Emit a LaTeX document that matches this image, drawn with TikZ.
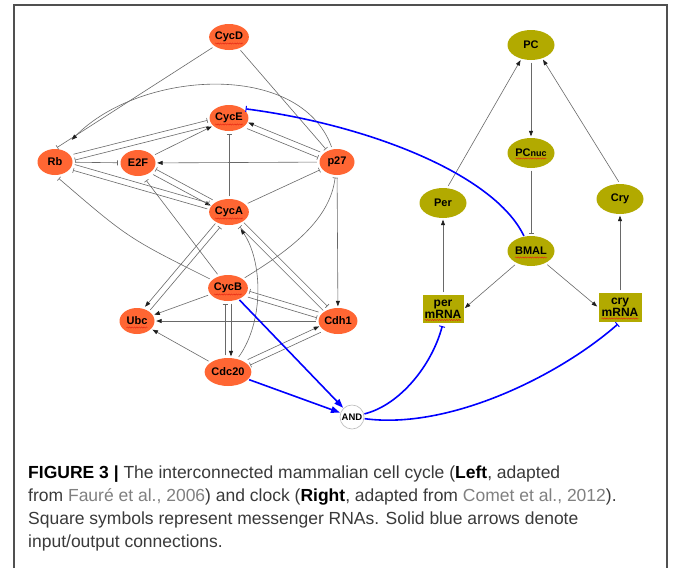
\documentclass[tikz,border=0pt]{standalone}
\usepackage{fontspec}
\setmainfont{Liberation Sans}
\usetikzlibrary{arrows.meta,calc,decorations.pathmorphing,shapes.geometric}
\definecolor{cellor}{RGB}{255,102,51}
\definecolor{clk}{RGB}{178,170,0}
\definecolor{edg}{RGB}{105,105,105}
\definecolor{tipc}{RGB}{30,30,30}
\definecolor{capt}{RGB}{58,58,58}
\definecolor{linkc}{RGB}{128,128,128}
\definecolor{frm}{RGB}{80,80,80}
\definecolor{sqc}{RGB}{230,40,20}
\newcommand\tlsep{3pt}
\newcommand\twoline[4]{%
  \path (#1) -- (#2) coordinate[pos=0] (tla) coordinate[pos=1] (tlb);
  \coordinate (tls) at ($(tla)!\tlsep!#3:(tlb)$);
  \draw[#4] (tls) -- ($(tlb)+(tls)-(tla)$);}
\begin{document}
\begin{tikzpicture}[x=1pt,y=-1pt,
  cell/.style={ellipse, fill=cellor, inner sep=0pt, minimum width=35pt, minimum height=26pt, font=\fontsize{11}{12}\selectfont\bfseries},
  clock/.style={ellipse, fill=clk, inner sep=0pt, minimum width=47pt, minimum height=30pt, font=\fontsize{11}{12}\selectfont\bfseries},
  mrna/.style={rectangle, fill=clk, inner sep=0pt, minimum height=28pt, align=center, font=\fontsize{12}{10}\selectfont\bfseries},
  gate/.style={circle, draw=gray!55, line width=0.6pt, fill=white, minimum size=24pt, inner sep=0pt, font=\fontsize{9.5}{10}\selectfont\bfseries},
  act/.style={draw=edg, line width=0.6pt, -{Triangle[length=5.5pt,width=4pt,color=tipc]}, shorten <=2.5pt, shorten >=1.5pt},
  inh/.style={draw=edg, line width=0.6pt, -{Bar[width=5pt]}, shorten <=2.5pt, shorten >=2.5pt},
  blact/.style={draw=blue, line width=1.6pt, -{Triangle[length=9pt,width=6.5pt]}, shorten <=1pt, shorten >=0.5pt},
  blinh/.style={draw=blue, line width=1.6pt, -{Bar[width=6pt,line width=1pt]}, shorten <=0.5pt, shorten >=3pt},
  squig/.style={draw=sqc, line width=0.45pt, decorate, decoration={snake,segment length=2.4pt,amplitude=0.6pt}},
  captext/.style={inner sep=0pt, anchor=base west, text=capt, font=\fontsize{17.5}{21}\selectfont},
]
\useasboundingbox (0,0) rectangle (674,568);
\fill[white] (0,0) rectangle (674,568);
\draw[draw=frm, line width=1.3pt] (14,568) -- (14,5) -- (667,5) -- (667,568);

% cell cycle nodes
\node[cell] (cycd) at (229,37) {CycD};
\node[cell] (cyce) at (229,118) {CycE};
\node[cell] (rb) at (55,162) {Rb};
\node[cell] (e2f) at (138,163) {E2F};
\node[cell] (p27) at (337,162) {p27};
\node[cell] (cyca) at (229,212) {CycA};
\node[cell] (cycb) at (228,288) {CycB};
\node[cell] (ubc) at (137,321) {Ubc};
\node[cell] (cdh1) at (338,321) {Cdh1};
\node[cell, minimum width=38pt, minimum height=28pt] (cdc20) at (228,372) {Cdc20};
\node[gate] (andg) at (352,417) {AND};

% clock nodes
\node[clock] (pc) at (531,45) {PC};
\node[clock] (pcnuc) at (531,153) {PC{\fontsize{9}{10}\selectfont nuc}};
\node[clock] (per) at (443,203) {Per};
\node[clock] (cry) at (620,199) {Cry};
\node[clock] (bmal) at (531,251) {BMAL};
\node[mrna, minimum width=41pt] (perm) at (443,309) {per\\mRNA};
\node[mrna, minimum width=43pt, minimum height=29pt] (crym) at (620,307.5) {cry\\mRNA};

% squiggles
\draw[squig] ([shift={(-14,6.5)}]cycd.center) -- ++(28,0);
\draw[squig] ([shift={(-14,6.5)}]cyce.center) -- ++(28,0);
\draw[squig] ([shift={(-14,6.5)}]cyca.center) -- ++(28,0);
\draw[squig] ([shift={(-14,6.5)}]cycb.center) -- ++(28,0);
\draw[squig] ([shift={(-10.5,6.5)}]ubc.center) -- ++(21,0);
\draw[squig] ([shift={(-16,6.5)}]bmal.center) -- ++(32,0);
\draw[squig] ([shift={(-15.5,5.5)}]pcnuc.center) -- ++(31,0);
\draw[squig] ([shift={(-18.5,11)}]perm.center) -- ++(37,0);
\draw[squig] ([shift={(-18.5,11)}]crym.center) -- ++(37,0);

% cell cycle edges
\draw[inh] (cycd) -- (rb.north);
\draw[inh] (cycd) -- (p27);
\draw[act, shorten >=14pt] (p27) .. controls (300,60) and (140,70) .. (rb.60);
\draw[inh] (rb) -- (e2f);
\twoline{rb}{cyce}{90}{inh}
\twoline{cyce}{rb}{90}{inh}
\draw[act] (e2f) -- (cyce);
\draw[act] (p27) -- (e2f);
\twoline{p27}{cyce}{-90}{act}
\twoline{cyce}{p27}{-90}{inh}
\draw[inh] (cyca) -- (cyce);
\twoline{cyca}{e2f}{-90}{inh}
\twoline{e2f}{cyca}{-90}{act}
\twoline{rb}{cyca}{90}{inh}
\twoline{cyca}{rb}{90}{inh}
\draw[inh] (cyca) -- (p27);
\draw[inh, shorten >=5pt] (cycb) .. controls (128,238) .. (rb.south);
\draw[inh, shorten >=6pt] (cycb) -- (e2f.-70);
\twoline{cyca}{ubc}{-90}{act}
\twoline{ubc}{cyca}{-90}{inh}
\draw[act] (cycb) -- (ubc);
\draw[act] (cdh1) -- (ubc);
\draw[act] (cdc20) -- (ubc);
\twoline{cycb}{cdc20}{90}{act}
\twoline{cdc20}{cycb}{90}{inh}
\draw[act, shorten >=6pt] (cdc20) .. controls (265,320) and (262,260) .. (cyca);
\twoline{cycb}{cdh1}{-90}{inh}
\twoline{cdh1}{cycb}{-90}{inh}
\twoline{cyca}{cdh1}{90}{inh}
\twoline{cdh1}{cyca}{90}{inh}
\draw[act] (p27) -- (cdh1);
\draw[inh] (cycb) .. controls (290,250) and (330,220) .. (p27);
\twoline{cdc20}{cdh1}{90}{act}
\twoline{cdh1}{cdc20}{90}{inh}

% clock edges
\draw[act] (pc) -- (pcnuc);
\draw[inh] (pcnuc) -- (bmal);
\draw[act] (per.75) -- (pc.-125);
\draw[act] (cry.north) -- (pc.-50);
\draw[act] (perm) -- (per);
\draw[act] (crym) -- (cry);
\draw[act] (bmal) -- (perm.east);
\draw[act] (bmal) -- (crym.west);

% input/output connections
\draw[blinh] (bmal) .. controls (495,175) and (370,125) .. (cyce.35);
\draw[blact] (cycb) -- (andg);
\draw[blact] (cdc20) -- (andg);
\draw[blinh] (andg) .. controls (400,405) and (432,365) .. (perm.south);
\draw[blinh] (andg) .. controls (450,430) and (560,375) .. (crym.south);

% caption
\node[captext] (cap1) at (28,478) {{\bfseries\color{black}FIGURE 3 |} The interconnected mammalian cell cycle ({\bfseries\color{black}Left}, adapted};
\node[captext] (cap2) at (28,501) {from {\color{linkc}Fauré et al., 2006}) and clock ({\bfseries\color{black}Right}, adapted from {\color{linkc}Comet et al., 2012}).};
\node[captext] (cap3) at (28,524) {Square symbols represent messenger RNAs. Solid blue arrows denote};
\node[captext] (cap4) at (28,547) {input/output connections.};
\end{tikzpicture}
\end{document}
